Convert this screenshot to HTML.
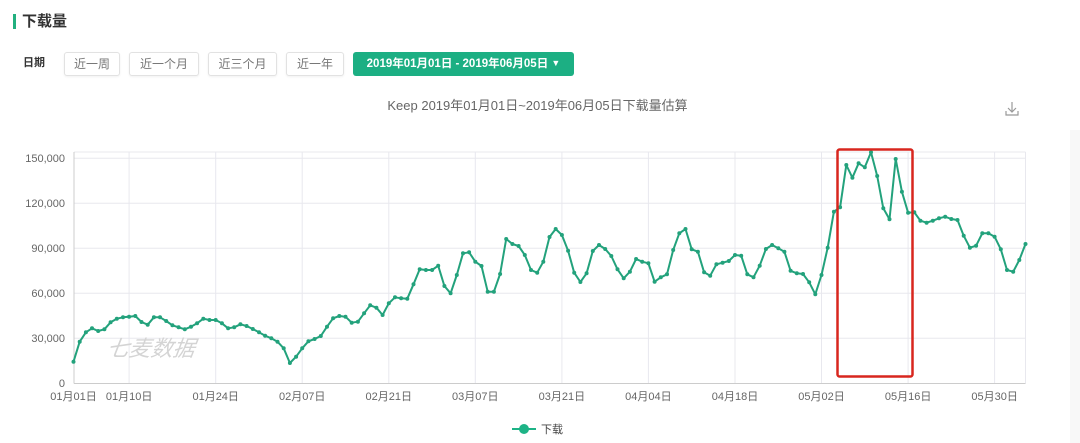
<!DOCTYPE html>
<html>
<head>
<meta charset="utf-8">
<style>
  html,body{margin:0;padding:0;background:#fff;}
  body{width:1080px;height:443px;position:relative;overflow:hidden;font-family:"Liberation Sans","Noto Sans CJK SC",sans-serif;}
  .bar{position:absolute;left:13px;top:14px;width:3px;height:15px;background:#22b07f;}
  .title{position:absolute;left:22px;top:12px;font-size:15px;font-weight:bold;color:#333;line-height:20px;}
  .lbl{position:absolute;left:23px;top:55px;font-size:11px;font-weight:bold;color:#333;line-height:16px;}
  .btn{position:absolute;top:52px;height:22px;border:1px solid #e2e2e2;border-radius:3px;box-shadow:0 1px 2px rgba(0,0,0,0.06);font-size:12px;color:#777;line-height:22px;text-align:center;background:#fff;}
  .gbtn{position:absolute;left:353px;top:52px;width:221px;height:24px;background:#1caf83;border-radius:3px;color:#fff;font-size:11.5px;font-weight:bold;line-height:24px;text-align:center;white-space:nowrap;}
  .strip{position:absolute;left:1070px;top:130px;width:10px;height:313px;background:#f8f8f8;}
</style>
</head>
<body>
<div class="bar"></div>
<div class="title">下载量</div>
<div class="lbl">日期</div>
<div class="btn" style="left:64px;width:54px;">近一周</div>
<div class="btn" style="left:129px;width:68px;">近一个月</div>
<div class="btn" style="left:208px;width:67px;">近三个月</div>
<div class="btn" style="left:286px;width:56px;">近一年</div>
<div class="gbtn">2019年01月01日 - 2019年06月05日 <span style="font-size:9px;position:relative;top:-1px;">▼</span></div>
<div class="strip"></div>

<svg width="1080" height="443" viewBox="0 0 1080 443" style="position:absolute;left:0;top:0;" xmlns="http://www.w3.org/2000/svg">
  <defs>
    <marker id="dot" markerUnits="userSpaceOnUse" markerWidth="6" markerHeight="6" refX="3" refY="3">
      <circle cx="3" cy="3" r="2" fill="#23a27c"/>
    </marker>
  </defs>
  <text x="537.5" y="110" text-anchor="middle" font-size="13" fill="#666" font-family="Liberation Sans, Noto Sans CJK SC, sans-serif">Keep 2019年01月01日~2019年06月05日下载量估算</text>

  <!-- download icon -->
  <g stroke="#999" stroke-width="1.2" fill="none">
    <line x1="1012" y1="102" x2="1012" y2="112"/>
    <polyline points="1008,108 1012,112 1016,108"/>
    <polyline points="1006,111 1006,115 1018,115 1018,111"/>
  </g>

  <!-- grid -->
  <g stroke="#e8e8ee" stroke-width="1">
    <line x1="74" y1="152" x2="1025.5" y2="152"/>
    <line x1="74" y1="158.3" x2="1025.5" y2="158.3"/>
    <line x1="74" y1="203.3" x2="1025.5" y2="203.3"/>
    <line x1="74" y1="248.3" x2="1025.5" y2="248.3"/>
    <line x1="74" y1="293.3" x2="1025.5" y2="293.3"/>
    <line x1="74" y1="338.3" x2="1025.5" y2="338.3"/>
    <line x1="1025.5" y1="152" x2="1025.5" y2="383.3"/>
    <line x1="129.1" y1="152" x2="129.1" y2="383.3"/>
    <line x1="215.7" y1="152" x2="215.7" y2="383.3"/>
    <line x1="302.2" y1="152" x2="302.2" y2="383.3"/>
    <line x1="388.8" y1="152" x2="388.8" y2="383.3"/>
    <line x1="475.3" y1="152" x2="475.3" y2="383.3"/>
    <line x1="561.9" y1="152" x2="561.9" y2="383.3"/>
    <line x1="648.4" y1="152" x2="648.4" y2="383.3"/>
    <line x1="735.0" y1="152" x2="735.0" y2="383.3"/>
    <line x1="821.5" y1="152" x2="821.5" y2="383.3"/>
    <line x1="908.1" y1="152" x2="908.1" y2="383.3"/>
    <line x1="994.6" y1="152" x2="994.6" y2="383.3"/>
  </g>
  <g stroke="#ccc" stroke-width="1">
    <line x1="74" y1="152" x2="74" y2="383.5"/>
    <line x1="74" y1="383.5" x2="1025.5" y2="383.5"/>
  </g>

  <!-- y labels -->
  <g font-size="11" fill="#666" text-anchor="end" font-family="Liberation Sans, sans-serif">
    <text x="65" y="162">150,000</text>
    <text x="65" y="207">120,000</text>
    <text x="65" y="252">90,000</text>
    <text x="65" y="297">60,000</text>
    <text x="65" y="342">30,000</text>
    <text x="65" y="387">0</text>
  </g>

  <!-- x labels -->
  <g font-size="11" fill="#666" text-anchor="middle" font-family="Liberation Sans, Noto Sans CJK SC, sans-serif">
    <text x="73.5" y="400">01月01日</text>
    <text x="129.1" y="400">01月10日</text>
    <text x="215.7" y="400">01月24日</text>
    <text x="302.2" y="400">02月07日</text>
    <text x="388.8" y="400">02月21日</text>
    <text x="475.3" y="400">03月07日</text>
    <text x="561.9" y="400">03月21日</text>
    <text x="648.4" y="400">04月04日</text>
    <text x="735.0" y="400">04月18日</text>
    <text x="821.5" y="400">05月02日</text>
    <text x="908.1" y="400">05月16日</text>
    <text x="994.6" y="400">05月30日</text>
  </g>

  <!-- watermark -->
  <text x="108" y="356" font-size="22" font-style="italic" fill="#d4d4d4" font-family="Noto Sans CJK SC, sans-serif" transform="skewX(-8) translate(48,0)">七麦数据</text>

  <!-- series -->
  <polyline fill="none" stroke="#23a27c" stroke-width="2" stroke-linejoin="round"
    marker-start="url(#dot)" marker-mid="url(#dot)" marker-end="url(#dot)"
    points="73.5,361.7 79.7,341.7 85.9,332.3 92.0,328.3 98.2,331 104.4,329.3 110.6,322.3 116.8,318.7 123.0,317.3 129.1,316.7 135.3,316 141.5,322 147.7,324.7 153.9,317.3 160.0,317.3 166.2,321 172.4,325.3 178.6,327.3 184.8,329.3 191.0,326.7 197.1,323.3 203.3,318.7 209.5,320 215.7,320 221.9,323.3 228.1,328.3 234.2,327.3 240.4,324.3 246.6,326 252.8,329 259.0,332.3 265.1,335.7 271.3,338.3 277.5,341.7 283.7,348.3 289.9,363 296.1,356.7 302.2,348.3 308.4,341.3 314.6,339 320.8,336 327.0,326.7 333.1,318.3 339.3,316 345.5,316.7 351.7,322.7 357.9,321.7 364.1,313.3 370.2,305.3 376.4,307.7 382.6,315 388.8,303.3 395.0,297.3 401.1,298.3 407.3,298.7 413.5,284.3 419.7,269.3 425.9,270 432.1,270 438.2,265.7 444.4,286 450.6,293.3 456.8,275 463.0,253.3 469.1,252.3 475.3,261.7 481.5,266 487.7,291.7 493.9,291.7 500.1,274 506.2,239 512.4,244 518.6,246 524.8,255 531.0,270 537.2,272.7 543.3,261.7 549.5,237 555.7,229 561.9,235 568.1,250.7 574.2,272.7 580.4,282 586.6,273.3 592.8,251 599.0,245 605.2,249 611.3,256 617.5,269.3 623.7,278.3 629.9,271.7 636.1,259 642.2,261.7 648.4,263.3 654.6,281.7 660.8,277.3 667.0,274.3 673.2,250 679.3,233.3 685.5,229 691.7,249.3 697.9,251.7 704.1,272.3 710.2,275.7 716.4,264.3 722.6,262.7 728.8,261 735.0,255 741.2,255.7 747.3,274.3 753.5,277.3 759.7,265.7 765.9,249 772.1,245 778.3,248.3 784.4,251.7 790.6,270.8 796.8,273.3 803.0,274 809.2,282.3 815.3,294.3 821.5,275 827.7,247.7 833.9,211.7 840.1,207.3 846.3,165 852.4,177.7 858.6,163.3 864.8,167.3 871.0,152.3 877.2,176 883.3,208.3 889.5,219.3 895.7,159 901.9,191.7 908.1,212.7 914.3,212.3 920.4,220.7 926.6,222.7 932.8,220.7 939.0,218.3 945.2,216.7 951.3,219 957.5,220 963.7,235.7 969.9,247.7 976.1,245.7 982.3,233.3 988.4,233.3 994.6,236.7 1000.8,249.3 1007.0,270 1013.2,271.7 1019.3,260 1025.5,244"/>

  <!-- red highlight box -->
  <rect x="837.5" y="149.5" width="75" height="227" rx="2" ry="2" fill="none" stroke="#d8261e" stroke-width="2.5"/>

  <!-- legend -->
  <line x1="512" y1="429" x2="536" y2="429" stroke="#1db386" stroke-width="2"/>
  <circle cx="524" cy="429" r="5" fill="#1db386"/>
  <text x="541" y="433" font-size="11" fill="#444" font-family="Liberation Sans, Noto Sans CJK SC, sans-serif">下载</text>
</svg>
</body>
</html>
